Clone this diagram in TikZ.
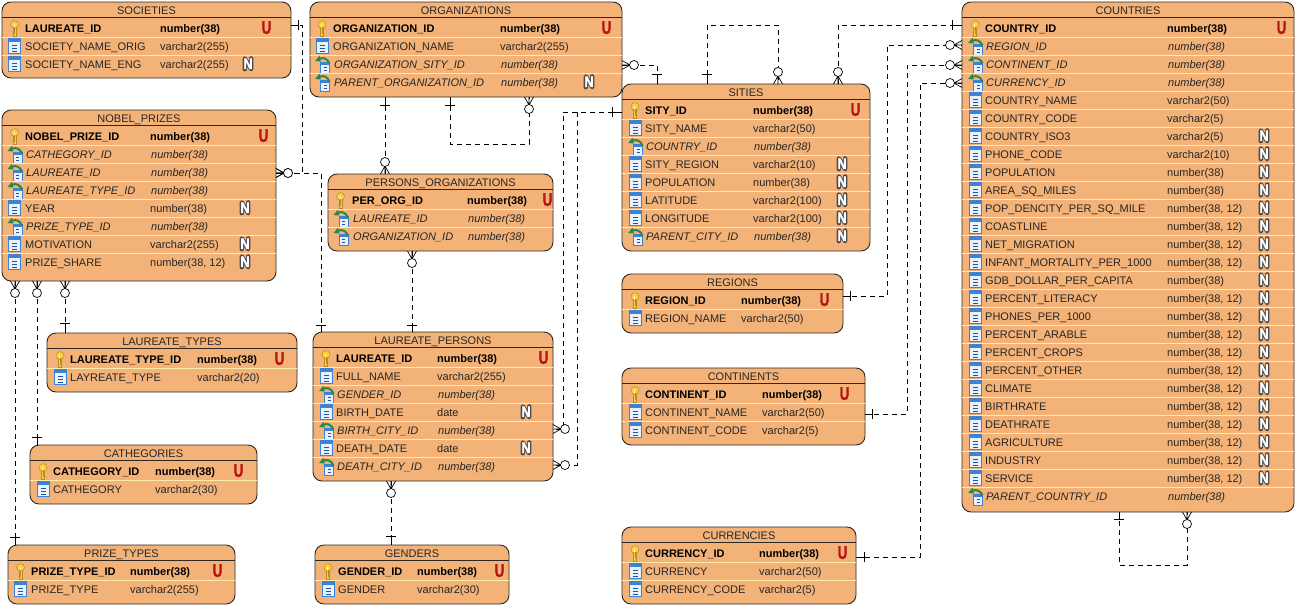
\documentclass[tikz,border=0pt]{standalone}
\usepackage{fontspec}
\setmainfont{Liberation Sans}
\newfontfamily\badgefont[FakeBold=2.2]{Liberation Sans Bold}
\definecolor{tfill}{RGB}{243,178,120}
\definecolor{tline}{RGB}{45,40,35}
\definecolor{rline}{RGB}{255,236,170}
\definecolor{keyy}{RGB}{250,208,60}
\definecolor{keyd}{RGB}{185,140,30}
\definecolor{iblue}{RGB}{60,130,215}
\definecolor{idark}{RGB}{30,85,160}
\definecolor{ibody}{RGB}{232,241,252}
\definecolor{igreen}{RGB}{40,135,80}
\definecolor{ured}{RGB}{185,20,20}
\tikzset{
  tablebox/.style={draw=tline,fill=tfill,line width=0.9pt,rounded corners=9pt,inner sep=0pt,outer sep=0pt},
  titletext/.style={font=\fontsize{11}{13}\selectfont,anchor=base,inner sep=0pt,text=black!85},
  celltext/.style={font=\fontsize{11}{13}\selectfont,anchor=base west,inner sep=0pt,text=black!85},
  pktext/.style={font=\fontsize{11}{13}\selectfont\bfseries,anchor=base west,inner sep=0pt,text=black},
  fktext/.style={font=\fontsize{11}{13}\selectfont\itshape,anchor=base west,inner sep=0pt,text=black!85},
  sepline/.style={draw=rline,line width=0.9pt},
  relline/.style={draw=black,line width=0.8pt,dash pattern=on 5pt off 4pt},
  markline/.style={draw=black,line width=0.7pt},
}
\newcount\rowy
\newcount\rowi
\newcommand{\tbl}[6]{%
  \gdef\curt{#1}\gdef\curxa{#2}\gdef\curxb{#3}%
  \node[tablebox,minimum width={(#3-#2)*1pt},minimum height={(#5-#4)*1pt}] (#1) at ({(#2+#3)/2},{(#4+#5)/2}) {};
  \draw[draw=tline,line width=0.9pt] (#2,#4+15) -- (#3,#4+15);
  \node[titletext] (#1-title) at ({(#2+#3)/2},#4+12) {#6};
  \global\rowy=\numexpr#4+26\relax
  \global\rowi=0
}
\newcommand{\tcols}[5]{\gdef\cico{#1}\gdef\cname{#2}\gdef\ctype{#3}\gdef\cu{#4}\gdef\cn{#5}}
\newcommand{\rowsep}{%
  \ifnum\rowi>0 \draw[sepline] (\curxa,\the\rowy-9) -- (\curxb,\the\rowy-9);\fi}
\newcommand{\rownext}{\global\advance\rowy by 18 \global\advance\rowi by 1 }
\newcommand{\ikey}{%
  \begin{scope}[shift={(\cico,\the\rowy)}]
    \draw[fill=keyy,draw=keyd,line width=0.5pt] (-1.6,-4) rectangle (1.6,8);
    \draw[fill=keyy,draw=keyd,line width=0.5pt] (0,-3.5) ellipse (4 and 3.9);
    \fill[white!70!keyy] (-1,-4) rectangle (0.2,-1);
    \draw[keyd,line width=0.6pt] (0,-1) -- (0,6);
  \end{scope}}
\newcommand{\icol}{%
  \begin{scope}[shift={(\cico,\the\rowy)}]
    \draw[fill=ibody,draw=iblue,line width=0.6pt] (-5.8,-8) rectangle (5.8,7.6);
    \fill[iblue] (-5.8,-8) rectangle (5.8,-3.8);
    \draw[idark,line width=1pt] (-2.5,-1) -- (2.5,-1) (-2.5,2) -- (2.5,2) (-2.5,5) -- (2.5,5);
  \end{scope}}
\newcommand{\ifk}{%
  \begin{scope}[shift={(\cico,\the\rowy)}]
    \draw[fill=ibody,draw=iblue,line width=0.6pt] (-1.5,-2) rectangle (7.5,9);
    \fill[iblue] (-1.5,-2) rectangle (7.5,1);
    \draw[idark,line width=1pt] (1.5,3.5) -- (4.5,3.5) (1.5,6.5) -- (4.5,6.5);
    \draw[igreen,line width=2pt] (7.5,-0.5) .. controls (5.5,-5.5) and (1,-7) .. (-2.5,-5.2);
    \fill[igreen] (-6.8,-3) -- (-2.5,-8.5) -- (-1.2,-2.5) -- cycle;
  \end{scope}}
\newcommand{\ubadge}{\node[inner sep=0pt,text=ured,font=\fontsize{18}{18}\badgefont] (\curt-u\the\rowi) at (\cu+0.5,\the\rowy-0.3) {\scalebox{.74}[1]{U}};}
\newcommand{\nbadge}{%
  \draw[black!70,line width=4.4pt,line join=round,line cap=round] (\cn-3.2,\the\rowy+5.2) -- (\cn-3.2,\the\rowy-5.6) -- (\cn+3.2,\the\rowy+5.2) -- (\cn+3.2,\the\rowy-5.6);
  \node[inner sep=0pt,text=white,font=\fontsize{15}{15}\badgefont] (\curt-b\the\rowi) at (\cn,\the\rowy-0.2) {\scalebox{.85}[1]{N}};}
\newcommand{\rowK}[2]{\rowsep\ikey
  \node[pktext] (\curt-n\the\rowi) at (\cname,\the\rowy+4) {#1};
  \node[pktext] (\curt-t\the\rowi) at (\ctype,\the\rowy+4) {#2};
  \ubadge\rownext}
\newcommand{\rowC}[2]{\rowsep\icol
  \node[celltext] (\curt-n\the\rowi) at (\cname,\the\rowy+4) {#1};
  \node[celltext] (\curt-t\the\rowi) at (\ctype,\the\rowy+4) {#2};
  \rownext}
\newcommand{\rowCN}[2]{\rowsep\icol
  \node[celltext] (\curt-n\the\rowi) at (\cname,\the\rowy+4) {#1};
  \node[celltext] (\curt-t\the\rowi) at (\ctype,\the\rowy+4) {#2};
  \nbadge\rownext}
\newcommand{\rowF}[2]{\rowsep\ifk
  \node[fktext] (\curt-n\the\rowi) at (\cname+1,\the\rowy+4) {#1};
  \node[fktext] (\curt-t\the\rowi) at (\ctype+1,\the\rowy+4) {#2};
  \rownext}
\newcommand{\rowFN}[2]{\rowsep\ifk
  \node[fktext] (\curt-n\the\rowi) at (\cname+1,\the\rowy+4) {#1};
  \node[fktext] (\curt-t\the\rowi) at (\ctype+1,\the\rowy+4) {#2};
  \nbadge\rownext}
% crow's foot with zero circle: point on border, unit direction away from table
\newcommand{\crowz}[4]{%
  \draw[markline] (#1+8*#3,#2+8*#4) -- (#1+4.5*#4,#2+4.5*#3) (#1+8*#3,#2+8*#4) -- (#1-4.5*#4,#2-4.5*#3) (#1+8*#3,#2+8*#4) -- (#1,#2);
  \draw[markline,fill=white] (#1+12*#3,#2+12*#4) circle (4.5);}
% solid stub with cross bar at distance #5
\newcommand{\onebar}[5]{%
  \draw[markline] (#1,#2) -- (#1+#5*#3,#2+#5*#4) (#1+#5*#3+5*#4,#2+#5*#4+5*#3) -- (#1+#5*#3-5*#4,#2+#5*#4-5*#3);}
\begin{document}
\begin{tikzpicture}[x=1pt,y=-1pt]
\useasboundingbox (0,0) rectangle (1297,608);
\fill[white] (0,0) rectangle (1297,608);

\tbl{societies}{2}{291}{2}{78}{SOCIETIES}
\tcols{14.5}{25}{160}{266}{248}
\rowK{LAUREATE\_ID}{number(38)}
\rowC{SOCIETY\_NAME\_ORIG}{varchar2(255)}
\rowCN{SOCIETY\_NAME\_ENG}{varchar2(255)}

\tbl{organizations}{310}{622}{2}{97}{ORGANIZATIONS}
\tcols{322}{333}{500}{606}{589}
\rowK{ORGANIZATION\_ID}{number(38)}
\rowC{ORGANIZATION\_NAME}{varchar2(255)}
\rowF{ORGANIZATION\_SITY\_ID}{number(38)}
\rowFN{PARENT\_ORGANIZATION\_ID}{number(38)}

\tbl{nobel}{2}{276}{110}{281}{NOBEL\_PRIZES}
\tcols{14.5}{25}{150}{263}{245}
\rowK{NOBEL\_PRIZE\_ID}{number(38)}
\rowF{CATHEGORY\_ID}{number(38)}
\rowF{LAUREATE\_ID}{number(38)}
\rowF{LAUREATE\_TYPE\_ID}{number(38)}
\rowCN{YEAR}{number(38)}
\rowF{PRIZE\_TYPE\_ID}{number(38)}
\rowCN{MOTIVATION}{varchar2(255)}
\rowCN{PRIZE\_SHARE}{number(38, 12)}

\tbl{persorg}{328}{553}{174}{251}{PERSONS\_ORGANIZATIONS}
\tcols{340.5}{352}{467}{547}{530}
\rowK{PER\_ORG\_ID}{number(38)}
\rowF{LAUREATE\_ID}{number(38)}
\rowF{ORGANIZATION\_ID}{number(38)}

\tbl{laureates}{313}{553}{332}{481}{LAUREATE\_PERSONS}
\tcols{326}{336}{437}{543}{526}
\rowK{LAUREATE\_ID}{number(38)}
\rowC{FULL\_NAME}{varchar2(255)}
\rowF{GENDER\_ID}{number(38)}
\rowCN{BIRTH\_DATE}{date}
\rowF{BIRTH\_CITY\_ID}{number(38)}
\rowCN{DEATH\_DATE}{date}
\rowF{DEATH\_CITY\_ID}{number(38)}

\tbl{ltypes}{47}{297}{333}{392}{LAUREATE\_TYPES}
\tcols{60}{70}{197}{279}{262}
\rowK{LAUREATE\_TYPE\_ID}{number(38)}
\rowC{LAYREATE\_TYPE}{varchar2(20)}

\tbl{cathegories}{30}{257}{445}{504}{CATHEGORIES}
\tcols{43}{53}{155}{238}{221}
\rowK{CATHEGORY\_ID}{number(38)}
\rowC{CATHEGORY}{varchar2(30)}

\tbl{ptypes}{8}{235}{545}{604}{PRIZE\_TYPES}
\tcols{20.5}{31}{130}{217}{200}
\rowK{PRIZE\_TYPE\_ID}{number(38)}
\rowC{PRIZE\_TYPE}{varchar2(255)}

\tbl{genders}{315}{509}{545}{604}{GENDERS}
\tcols{328}{338}{417}{499}{482}
\rowK{GENDER\_ID}{number(38)}
\rowC{GENDER}{varchar2(30)}

\tbl{sities}{622}{870}{84}{251}{SITIES}
\tcols{635}{645}{753}{855}{842}
\rowK{SITY\_ID}{number(38)}
\rowC{SITY\_NAME}{varchar2(50)}
\rowF{COUNTRY\_ID}{number(38)}
\rowCN{SITY\_REGION}{varchar2(10)}
\rowCN{POPULATION}{number(38)}
\rowCN{LATITUDE}{varchar2(100)}
\rowCN{LONGITUDE}{varchar2(100)}
\rowFN{PARENT\_CITY\_ID}{number(38)}

\tbl{regions}{622}{843}{274}{333}{REGIONS}
\tcols{635}{645}{741}{824}{807}
\rowK{REGION\_ID}{number(38)}
\rowC{REGION\_NAME}{varchar2(50)}

\tbl{continents}{622}{865}{368}{445}{CONTINENTS}
\tcols{635}{645}{762}{844}{827}
\rowK{CONTINENT\_ID}{number(38)}
\rowC{CONTINENT\_NAME}{varchar2(50)}
\rowC{CONTINENT\_CODE}{varchar2(5)}

\tbl{currencies}{622}{856}{527}{604}{CURRENCIES}
\tcols{635}{645}{759}{842}{825}
\rowK{CURRENCY\_ID}{number(38)}
\rowC{CURRENCY}{varchar2(50)}
\rowC{CURRENCY\_CODE}{varchar2(5)}

\tbl{countries}{962}{1294}{2}{512}{COUNTRIES}
\tcols{975}{985}{1167}{1281}{1264}
\rowK{COUNTRY\_ID}{number(38)}
\rowF{REGION\_ID}{number(38)}
\rowF{CONTINENT\_ID}{number(38)}
\rowF{CURRENCY\_ID}{number(38)}
\rowC{COUNTRY\_NAME}{varchar2(50)}
\rowC{COUNTRY\_CODE}{varchar2(5)}
\rowCN{COUNTRY\_ISO3}{varchar2(5)}
\rowCN{PHONE\_CODE}{varchar2(10)}
\rowCN{POPULATION}{number(38)}
\rowCN{AREA\_SQ\_MILES}{number(38)}
\rowCN{POP\_DENCITY\_PER\_SQ\_MILE}{number(38, 12)}
\rowCN{COASTLINE}{number(38, 12)}
\rowCN{NET\_MIGRATION}{number(38, 12)}
\rowCN{INFANT\_MORTALITY\_PER\_1000}{number(38, 12)}
\rowCN{GDB\_DOLLAR\_PER\_CAPITA}{number(38)}
\rowCN{PERCENT\_LITERACY}{number(38, 12)}
\rowCN{PHONES\_PER\_1000}{number(38, 12)}
\rowCN{PERCENT\_ARABLE}{number(38, 12)}
\rowCN{PERCENT\_CROPS}{number(38, 12)}
\rowCN{PERCENT\_OTHER}{number(38, 12)}
\rowCN{CLIMATE}{number(38, 12)}
\rowCN{BIRTHRATE}{number(38, 12)}
\rowCN{DEATHRATE}{number(38, 12)}
\rowCN{AGRICULTURE}{number(38, 12)}
\rowCN{INDUSTRY}{number(38, 12)}
\rowCN{SERVICE}{number(38, 12)}
\rowF{PARENT\_COUNTRY\_ID}{number(38)}

% connectors
\draw[relline] (societies.east |- 0,25) -- (302,25) -- (302,173) -- (nobel.east |- 0,173);
\onebar{291}{25}{1}{0}{7}\crowz{276}{173}{1}{0}
\draw[relline] (laureates.north -| 321,0) -- (321,173) -- (nobel.east |- 0,173);
\onebar{321}{332}{0}{-1}{7}\crowz{276}{173}{1}{0}

\draw[relline] (organizations.east |- 0,65) -- (657,65) -- (sities.north -| 657,0);
\crowz{622}{65}{1}{0}\onebar{657}{84}{0}{-1}{10}

\draw[relline] (organizations.south -| 450,0) -- (450,144) -- (529,144) -- (organizations.south -| 529,0);
\onebar{450}{97}{0}{1}{8}\crowz{529}{97}{0}{1}

\draw[relline] (organizations.south -| 385,0) -- (persorg.north -| 385,0);
\onebar{385}{97}{0}{1}{8}\crowz{385}{174}{0}{-1}

\draw[relline] (persorg.south -| 412,0) -- (laureates.north -| 412,0);
\crowz{412}{251}{0}{1}\onebar{412}{332}{0}{-1}{7}

\draw[relline] (laureates.south -| 391,0) -- (genders.north -| 391,0);
\crowz{391}{481}{0}{1}\onebar{391}{545}{0}{-1}{9}

\draw[relline] (sities.north -| 707,0) -- (707,25) -- (778,25) -- (sities.north -| 778,0);
\onebar{707}{84}{0}{-1}{10}\crowz{778}{84}{0}{-1}

\draw[relline] (sities.north -| 838,0) -- (838,25) -- (countries.west |- 0,25);
\crowz{838}{84}{0}{-1}\onebar{962}{25}{-1}{0}{10}

\draw[relline] (sities.west |- 0,112) -- (563,112) -- (563,429) -- (laureates.east |- 0,429);
\crowz{553}{429}{1}{0}
\draw[relline] (sities.west |- 0,112) -- (577,112) -- (577,465) -- (laureates.east |- 0,465);
\crowz{553}{465}{1}{0}\onebar{622}{112}{-1}{0}{10}

\draw[relline] (regions.east |- 0,296) -- (887,296) -- (887,45) -- (countries.west |- 0,45);
\onebar{843}{296}{1}{0}{7}\crowz{962}{45}{-1}{0}

\draw[relline] (continents.east |- 0,414) -- (907,414) -- (907,65) -- (countries.west |- 0,65);
\onebar{865}{414}{1}{0}{7}\crowz{962}{65}{-1}{0}

\draw[relline] (currencies.east |- 0,557) -- (920,557) -- (920,83) -- (countries.west |- 0,83);
\onebar{856}{557}{1}{0}{8}\crowz{962}{83}{-1}{0}

\draw[relline] (countries.south -| 1119,0) -- (1119,565) -- (1187,565) -- (countries.south -| 1187,0);
\onebar{1119}{512}{0}{1}{7}\crowz{1187}{512}{0}{1}

\draw[relline] (nobel.south -| 15,0) -- (ptypes.north -| 15,0);
\crowz{15}{281}{0}{1}\onebar{15}{545}{0}{-1}{8}

\draw[relline] (nobel.south -| 37,0) -- (cathegories.north -| 37,0);
\crowz{37}{281}{0}{1}\onebar{37}{445}{0}{-1}{8}

\draw[relline] (nobel.south -| 65,0) -- (ltypes.north -| 65,0);
\crowz{65}{281}{0}{1}\onebar{65}{333}{0}{-1}{10}
\end{tikzpicture}
\end{document}
